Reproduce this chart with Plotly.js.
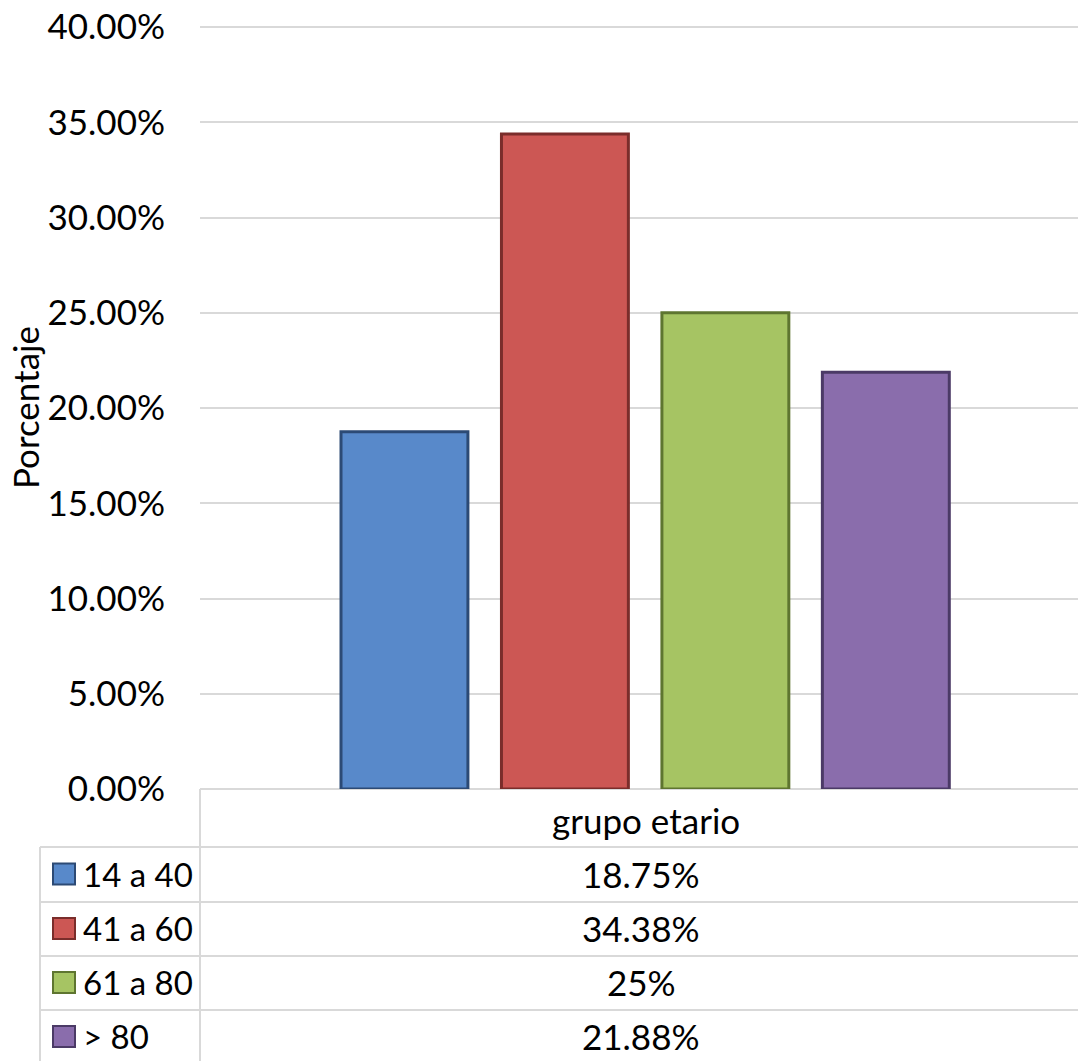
<!DOCTYPE html>
<html><head><meta charset="utf-8">
<script src="https://cdn.plot.ly/plotly-3.0.1.min.js"></script>
<style>html,body{margin:0;padding:0;background:#fff}</style>
</head><body>
<div id="chart" style="width:1078px;height:1061px"></div>
<script>
const category = ['grupo etario'];
const seriesNames = ['14 a 40', '41 a 60', '61 a 80', '> 80'];
const seriesValues = [0.1875, 0.3438, 0.25, 0.2188];
const tableLabels = ['18.75%', '34.38%', '25%', '21.88%'];
const yTickVals = [0, 0.05, 0.10, 0.15, 0.20, 0.25, 0.30, 0.35, 0.40];

const fills = ['#5889CA', '#CC5754', '#A6C463', '#8A6DAC'];
const edges = ['#2C4A75', '#7A2D2B', '#5E7530', '#4B3A66'];

const W = 1078, H = 1061;
const L = 200, T = 27, B = 789;
const plotH = B - T, plotW = W - L;
const py = p => (B - p) / plotH;      // pixel y -> paper y
const px = p => (p - L) / plotW;      // pixel x -> paper x
const FONT = 'Lato, "Open Sans", sans-serif';
const FS = 35;

const traces = seriesNames.map((n, i) => ({
  type: 'bar', name: n, x: category, y: [seriesValues[i]],
  marker: {color: fills[i], line: {color: edges[i], width: 3}},
  hoverinfo: 'skip'
}));

const lineColor = '#D9D9D9';
const shapes = [];
function hline(x0, x1, y) {
  shapes.push({type: 'line', xref: 'paper', yref: 'paper', x0: px(x0), x1: px(x1), y0: py(y), y1: py(y),
    line: {color: lineColor, width: 2}, layer: 'below'});
}
function vline(x, y0, y1) {
  shapes.push({type: 'line', xref: 'paper', yref: 'paper', x0: px(x), x1: px(x), y0: py(y0), y1: py(y1),
    line: {color: lineColor, width: 2}, layer: 'below'});
}
hline(L, W + 2, T);
hline(L, W + 2, B);
const rowTops = [847, 902, 956, 1010, 1064];
rowTops.slice(0, 4).forEach(y => hline(40, W + 2, y));
vline(L, B, H + 2);
vline(40, 847, H + 2);

const annotations = [];
annotations.push({xref: 'paper', yref: 'paper', x: px(25), y: py(408), xanchor: 'center', yanchor: 'middle',
  text: 'Porcentaje', textangle: -90, showarrow: false, font: {family: FONT, size: FS, color: '#000'}});
annotations.push({xref: 'paper', yref: 'paper', x: px(646), y: py(820), xanchor: 'center', yanchor: 'middle',
  text: category[0], showarrow: false, font: {family: FONT, size: FS, color: '#000'}});
seriesNames.forEach((n, i) => {
  const yc = (rowTops[i] + rowTops[i + 1]) / 2 - 1;
  annotations.push({xref: 'paper', yref: 'paper', x: px(81), y: py(yc), xanchor: 'left', yanchor: 'middle',
    text: n, showarrow: false, font: {family: FONT, size: 33, color: '#000'}});
  annotations.push({xref: 'paper', yref: 'paper', x: px(641), y: py(yc), xanchor: 'center', yanchor: 'middle',
    text: tableLabels[i], showarrow: false, font: {family: FONT, size: FS, color: '#000'}});
  shapes.push({type: 'rect', xref: 'paper', yref: 'paper', x0: px(53), x1: px(75), y0: py(yc - 10), y1: py(yc + 11),
    fillcolor: fills[i], line: {color: edges[i], width: 2}});
});

const layout = {
  width: W, height: H,
  margin: {l: L, r: 0, t: T, b: H - B, pad: 0},
  paper_bgcolor: '#fff', plot_bgcolor: '#fff',
  showlegend: false,
  barmode: 'group', bargap: 0.269, bargroupgap: 0.209,
  xaxis: {type: 'category', range: [-0.507, 0.493], showticklabels: false, showgrid: false,
    zeroline: false, showline: false, fixedrange: true},
  yaxis: {range: [0, 0.40], tickvals: yTickVals, tickformat: '.2%',
    showgrid: true, gridcolor: lineColor, gridwidth: 2, zeroline: false, showline: false,
    ticks: '', ticklabelstandoff: 34,
    tickfont: {family: FONT, size: FS, color: '#000'}, fixedrange: true},
  shapes: shapes, annotations: annotations,
  font: {family: FONT}
};
Plotly.newPlot('chart', traces, layout, {displayModeBar: false, staticPlot: true});
</script>
</body></html>
